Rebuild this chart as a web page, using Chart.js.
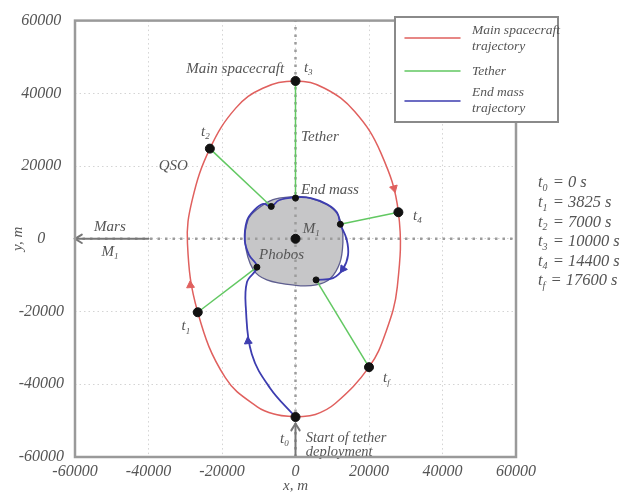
<!DOCTYPE html>
<html><head><meta charset="utf-8">
<script src="https://cdn.jsdelivr.net/npm/chart.js@4.4.1/dist/chart.umd.min.js"></script>
<style>html,body{margin:0;padding:0;background:#fff}</style>
</head><body>
<canvas id="c" width="636" height="495"></canvas>
<script>
// Positions are in metres, Phobos-centred frame.
const timeSubs   = ['0', '1', '2', '3', '4', 'f'];
const timeValues = [0, 3825, 7000, 10000, 14400, 17600];

// main spacecraft at the marked instants
const craftX = [0, -26600, -23300, 0, 28000, 20000];
const craftY = [-49000, -20200, 24800, 43400, 7300, -35300];
// end mass at the same instants
const endX = [0, -10500, -6600, 0, 12200, 5600];
const endY = [-49000, -7800, 8900, 11200, 4000, -11300];

// quasi-satellite orbit of the main spacecraft (clockwise from t0 back to t0)
const orbitX = [0, -5300, -10400, -19100, -26600, -29400, -28100, -23300, -16200, -8900, 0, 7900, 16100, 23200, 28000, 27700, 24500, 20000, 10800, 5400, 0];
const orbitY = [-49000, -48300, -46200, -38200, -20200, -1200, 10700, 24800, 36000, 41400, 43400, 41400, 35000, 23700, 7300, -13200, -25900, -35300, -45300, -48300, -49000];

// end mass path
const endPathX = [0, -6950, -11900, -13500, -13200, -10500, -12600, -13800, -13200, -11200, -8800, -6600, -4500, 0, 4200, 8600, 11300, 12200, 13900, 14300, 12900, 10200, 5600];
const endPathY = [-49000, -41000, -31700, -19200, -11900, -7800, -4500, -500, 5000, 7900, 9600, 8900, 10600, 11400, 11200, 9500, 7200, 4000, -100, -4500, -8300, -10800, -11300];

// Phobos outline
const phobosX = [0, 3900, 8500, 11200, 12600, 12900, 12100, 9400, 5600, 0, -7800, -11600, -13700, -12900, -10600, -6100, 0];
const phobosY = [11700, 11200, 9400, 7100, 3500, -1000, -6500, -11000, -12700, -12800, -11300, -8300, -1000, 5300, 8000, 10800, 11700];

// direction markers on the trajectories
const orbitArrowX = [-28600, 26800];
const orbitArrowY = [-12800, 13900];
const orbitArrowDeg = [-4, 165];
const endArrowX = [-12900, 12900];
const endArrowY = [-28200, -8300];
const endArrowDeg = [-6, 215];

const axisTicks = [-60000, -40000, -20000, 0, 20000, 40000, 60000];

const RED = '#e0605e', GREEN = '#62c862', BLUE = '#3d3db0', INK = '#555555';
const SERIF = '"Liberation Serif", "DejaVu Serif", serif';

const pts = (xs, ys) => xs.map((x, i) => ({ x, y: ys[i] }));

// black markers: spacecraft, end mass (t1..tf), Phobos centre
const dotData = pts(craftX, craftY).concat(pts(endX.slice(1), endY.slice(1)), [{ x: 0, y: 0 }]);
const dotRadius = dotData.map((d, i) => (i < craftX.length || i === dotData.length - 1) ? 4.5 : 3);

const tetherSets = [1, 2, 3, 4, 5].map(i => ({
  label: 'Tether', data: [{ x: craftX[i], y: craftY[i] }, { x: endX[i], y: endY[i] }],
  showLine: true, borderColor: GREEN, borderWidth: 1.5, pointRadius: 0, order: 3
}));

const datasets = [
  { label: 'markers', data: dotData, showLine: false, pointRadius: dotRadius, backgroundColor: '#111', borderColor: '#111', order: 1 },
  { label: 'orbit arrows', data: pts(orbitArrowX, orbitArrowY), showLine: false, pointStyle: 'triangle', pointRadius: 4.5, pointRotation: orbitArrowDeg, backgroundColor: RED, borderColor: RED, order: 2 },
  { label: 'end arrows', data: pts(endArrowX, endArrowY), showLine: false, pointStyle: 'triangle', pointRadius: 4.5, pointRotation: endArrowDeg, backgroundColor: BLUE, borderColor: BLUE, order: 2 },
  ...tetherSets,
  { label: 'End mass trajectory', data: pts(endPathX, endPathY), showLine: true, tension: 0.4, borderColor: BLUE, borderWidth: 1.8, pointRadius: 0, order: 4 },
  { label: 'Main spacecraft trajectory', data: pts(orbitX, orbitY), showLine: true, tension: 0.4, borderColor: RED, borderWidth: 1.5, pointRadius: 0, order: 5 },
  { label: 'x0', data: [{ x: 0, y: -60000 }, { x: 0, y: 60000 }], showLine: true, borderColor: '#9c9c9c', borderWidth: 2.5, borderDash: [2.5, 5], pointRadius: 0, order: 6 },
  { label: 'y0', data: [{ x: -60000, y: 0 }, { x: 60000, y: 0 }], showLine: true, borderColor: '#9c9c9c', borderWidth: 2.5, borderDash: [2.5, 5], pointRadius: 0, order: 6 },
  { label: 'Phobos', data: pts(phobosX, phobosY), showLine: true, tension: 0.35, fill: 'shape', backgroundColor: '#c6c6c8', borderColor: '#5f5f90', borderWidth: 1.3, pointRadius: 0, order: 7 }
];

// text placed in data units
const notes = [
  { t: 'Main spacecraft', x: -3100, y: 46700, a: 'right', s: 15 },
  { t: 't_{3}', x: 2300, y: 47000, a: 'left', s: 15 },
  { t: 'Tether', x: 1500, y: 28000, a: 'left', s: 15 },
  { t: 'End mass', x: 1500, y: 13400, a: 'left', s: 15 },
  { t: 'M_{1}', x: 2000, y: 2800, a: 'left', s: 15 },
  { t: 'Phobos', x: -3800, y: -4600, a: 'center', s: 15 },
  { t: 'QSO', x: -29300, y: 19900, a: 'right', s: 15 },
  { t: 't_{2}', x: -25700, y: 29300, a: 'left', s: 15 },
  { t: 't_{1}', x: -31000, y: -24100, a: 'left', s: 15 },
  { t: 't_{4}', x: 32000, y: 6200, a: 'left', s: 15 },
  { t: 't_{f}', x: 23800, y: -38200, a: 'left', s: 15 },
  { t: 't_{0}', x: -4200, y: -55000, a: 'left', s: 15 },
  { t: 'Start of tether', x: 2800, y: -54800, a: 'left', s: 14.5 },
  { t: 'deployment', x: 2800, y: -58600, a: 'left', s: 14.5 },
  { t: 'Mars', x: -50500, y: 3100, a: 'center', s: 15 },
  { t: 'M_{1}', x: -50500, y: -3700, a: 'center', s: 15 }
];

// grey pointer arrows: [fromX, fromY, toX, toY]
const pointers = [[-40000, 0, -60000, 0], [0, -60000, 0, -50800]];

function drawRich(ctx, text, x, y, align, size) {
  const runs = []; const re = /_\{([^}]*)\}/g; let last = 0, m;
  while ((m = re.exec(text))) {
    if (m.index > last) runs.push([text.slice(last, m.index), false]);
    runs.push([m[1], true]); last = re.lastIndex;
  }
  if (last < text.length) runs.push([text.slice(last), false]);
  const main = `italic ${size}px ${SERIF}`, sub = `italic ${Math.round(size * 0.62)}px ${SERIF}`;
  let w = 0;
  runs.forEach(r => { ctx.font = r[1] ? sub : main; r.push(ctx.measureText(r[0]).width); w += r[2]; });
  let cx = align === 'center' ? x - w / 2 : align === 'right' ? x - w : x;
  ctx.textAlign = 'left'; ctx.textBaseline = 'middle';
  runs.forEach(r => { ctx.font = r[1] ? sub : main; ctx.fillText(r[0], cx, r[1] ? y + size * 0.32 : y); cx += r[2] + (r[1] ? 1 : 0); });
}

const decor = {
  id: 'decor',
  afterDatasetsDraw(chart) {
    const { ctx, chartArea: a, scales: { x: sx, y: sy } } = chart;
    ctx.save();
    // pointer arrows
    ctx.strokeStyle = '#777'; ctx.lineWidth = 2; ctx.lineCap = 'round';
    pointers.forEach(([x0, y0, x1, y1]) => {
      const p0x = sx.getPixelForValue(x0), p0y = sy.getPixelForValue(y0);
      const p1x = sx.getPixelForValue(x1), p1y = sy.getPixelForValue(y1);
      const ang = Math.atan2(p1y - p0y, p1x - p0x);
      ctx.beginPath(); ctx.moveTo(p0x, p0y); ctx.lineTo(p1x, p1y); ctx.stroke();
      ctx.beginPath();
      ctx.moveTo(p1x - 8 * Math.cos(ang - 0.55), p1y - 8 * Math.sin(ang - 0.55));
      ctx.lineTo(p1x, p1y);
      ctx.lineTo(p1x - 8 * Math.cos(ang + 0.55), p1y - 8 * Math.sin(ang + 0.55));
      ctx.stroke();
    });
    // notes
    ctx.fillStyle = INK;
    notes.forEach(n => drawRich(ctx, n.t, sx.getPixelForValue(n.x), sy.getPixelForValue(n.y), n.a, n.s));
    // frame
    ctx.strokeStyle = '#9a9a9a'; ctx.lineWidth = 2.5;
    ctx.strokeRect(a.left, a.top, a.right - a.left, a.bottom - a.top);
    // legend
    const lx = 395, ly = 17, lw = 163, lh = 105;
    ctx.fillStyle = '#fff'; ctx.fillRect(lx, ly, lw, lh);
    ctx.strokeStyle = '#8a8a8a'; ctx.lineWidth = 2; ctx.strokeRect(lx, ly, lw, lh);
    const items = [
      { c: RED, ly: 38, lines: ['Main spacecraft', 'trajectory'], ty: 30 },
      { c: GREEN, ly: 71, lines: ['Tether'], ty: 71 },
      { c: BLUE, ly: 101, lines: ['End mass', 'trajectory'], ty: 92 }
    ];
    items.forEach(it => {
      ctx.strokeStyle = it.c; ctx.lineWidth = 1.5;
      ctx.beginPath(); ctx.moveTo(405, it.ly); ctx.lineTo(460, it.ly); ctx.stroke();
      ctx.fillStyle = INK;
      it.lines.forEach((s, k) => drawRich(ctx, s, 472, it.ty + k * 16, 'left', 13.5));
    });
    // instants list
    ctx.fillStyle = INK;
    timeSubs.forEach((s, i) => drawRich(ctx, `t_{${s}} = ${timeValues[i]} s`, 538, 183 + i * 19.6, 'left', 16.5));
    ctx.restore();
  }
};

const tickFont = { family: SERIF, style: 'italic', size: 16 };
const titleFont = { family: SERIF, style: 'italic', size: 15 };

new Chart(document.getElementById('c'), {
  type: 'scatter',
  data: { datasets },
  options: {
    responsive: false, animation: false,
    layout: { padding: { top: 15, right: 120, left: 0, bottom: 0 } },
    plugins: { legend: { display: false }, tooltip: { enabled: false } },
    scales: {
      x: {
        type: 'linear', min: -60000, max: 60000,
        afterBuildTicks: s => { s.ticks = axisTicks.map(v => ({ value: v })); },
        afterFit: s => { s.height = 38; },
        grid: { color: '#d4d4d4', lineWidth: 1, drawTicks: false },
        border: { display: false, dash: [1.5, 3] },
        ticks: { callback: v => String(v), font: tickFont, color: INK, padding: 5, maxRotation: 0 },
        title: { display: true, text: 'x, m', font: titleFont, color: INK, padding: { top: 0, bottom: 0 } }
      },
      y: {
        type: 'linear', min: -60000, max: 60000,
        afterBuildTicks: s => { s.ticks = axisTicks.map(v => ({ value: v })); },
        afterFit: s => { s.width = 75; },
        grid: { color: '#d4d4d4', lineWidth: 1, drawTicks: false },
        border: { display: false, dash: [1.5, 3] },
        ticks: { callback: v => String(v), font: tickFont, color: INK, padding: 11, crossAlign: 'center' },
        title: { display: true, text: 'y, m', font: titleFont, color: INK, padding: { top: 9, bottom: 0 } }
      }
    }
  },
  plugins: [decor]
});
</script>
</body></html>
